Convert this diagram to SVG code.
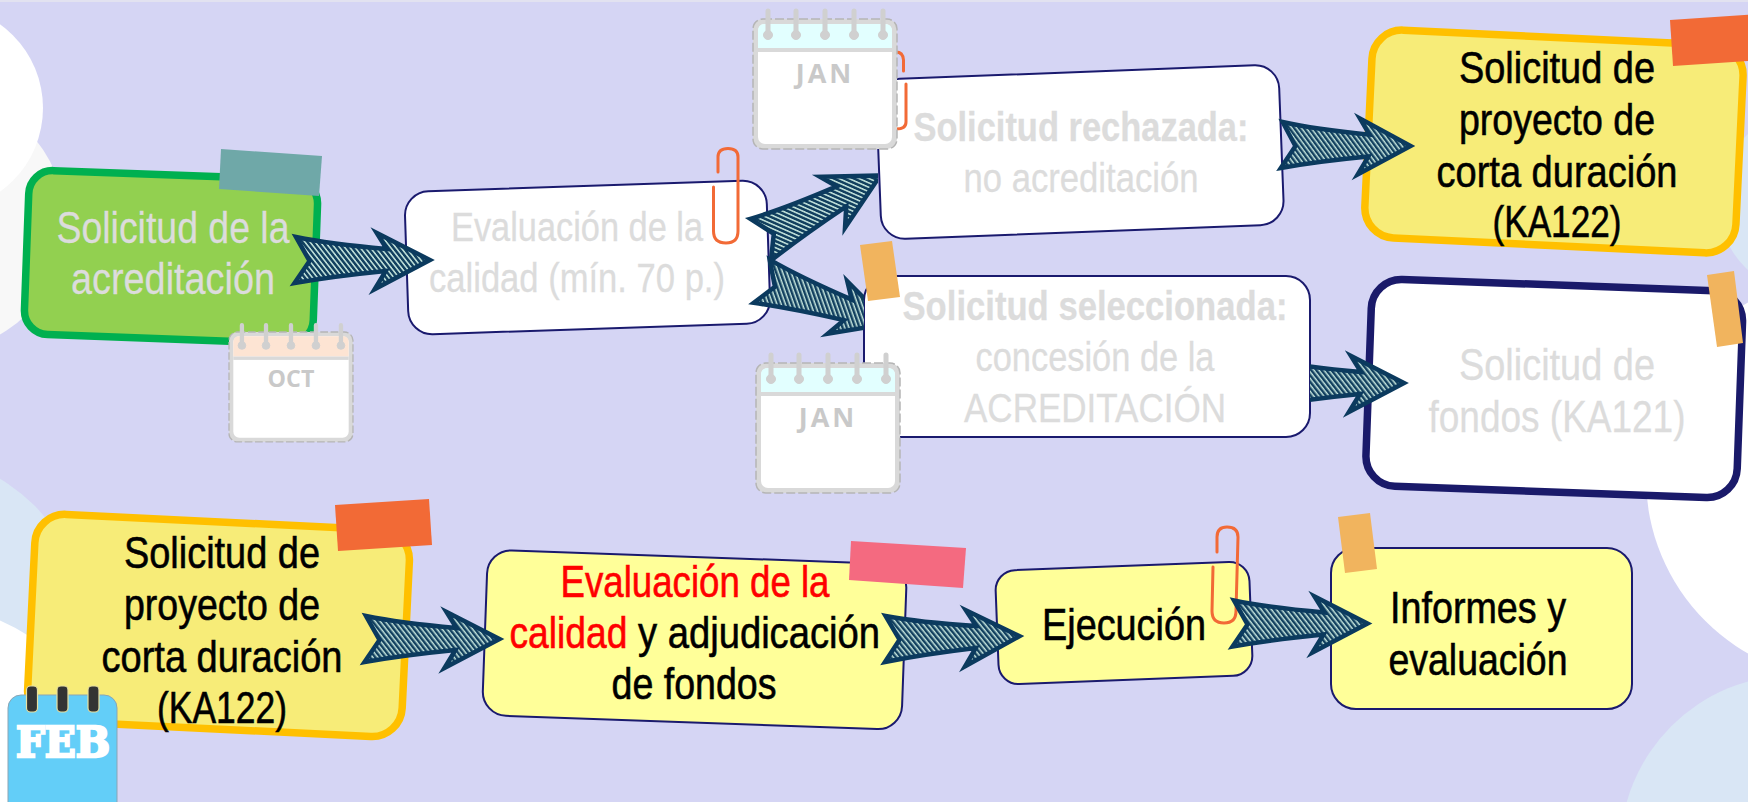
<svg xmlns="http://www.w3.org/2000/svg" width="1748" height="802" viewBox="0 0 1748 802">
<style>
text{font-family:"Liberation Sans",Arial,sans-serif;font-size:45px;text-anchor:middle}
.s{font-size:41px}
.st{text-anchor:start}
.lt{fill:#dcdcdc;stroke:#dcdcdc;stroke-width:.3}.bk{fill:#000;stroke:#000;stroke-width:.6}.rd{fill:#ff0000;stroke:#ff0000;stroke-width:.6}.b{font-weight:bold}
.thin{fill:#fff;stroke:#1a1a6e;stroke-width:2}
.yel{fill:#ffff99;stroke:#1a1a6e;stroke-width:2}
.gold{fill:#f7ec78;stroke:#ffc000;stroke-width:7.5}
.clip{fill:none;stroke:#f26a36;stroke-width:3;stroke-linecap:round}
.calt{font-family:"Open Sans","Liberation Sans",sans-serif;font-size:27px;font-weight:bold;fill:#c9c9c9}
</style>
<defs>
<pattern id="hatch" width="4" height="4" patternUnits="userSpaceOnUse" patternTransform="rotate(52)">
<rect width="4" height="4" fill="#12405f"/><rect width="4" height="1.5" fill="#c4e4dc"/>
</pattern>
<path id="arrow" d="M1.5,-23 Q35,-16 92,-11 L82,-27 L135,0 L80,29 L91,11 Q40,16 0,23 L15,1 Z" fill="url(#hatch)" stroke="#0b3a5e" stroke-width="4.5" stroke-linejoin="miter" stroke-miterlimit="6"/>
<g id="cal-frame">
<rect x="0" y="0" width="144" height="130" rx="10" fill="#d9d9d9" stroke="#b5b5b5" stroke-width="1.5" stroke-dasharray="9 3"/>
<rect x="5" y="5" width="134" height="120" rx="7" fill="#fff"/>
</g>
<g id="cal-rings" fill="#d0d0d0" stroke="#d0d0d0">
<path d="M15,-8V16M43,-8V16M72,-8V16M101,-8V16M130,-8V16" stroke-width="5" stroke-linecap="round"/>
<circle cx="15" cy="16" r="4.5"/><circle cx="43" cy="16" r="4.5"/><circle cx="72" cy="16" r="4.5"/><circle cx="101" cy="16" r="4.5"/><circle cx="130" cy="16" r="4.5"/>
</g>
<clipPath id="c5"><rect x="1310" y="330" width="120" height="110"/></clipPath>
<clipPath id="c2"><rect x="740" y="150" width="138" height="120"/></clipPath>
<clipPath id="c3"><rect x="740" y="250" width="124" height="100"/></clipPath>
</defs>

<rect width="1748" height="802" fill="#d5d5f4"/>
<rect width="1748" height="2" fill="#e2e2f0"/>
<g id="background">
<circle cx="-65" cy="222" r="130" fill="#f8f8f8"/>
<circle cx="-60" cy="108" r="103" fill="#fff"/>
<circle cx="-90" cy="630" r="176" fill="#d9e6f5"/>
<circle cx="-75" cy="795" r="190" fill="#fff"/>
<circle cx="1810" cy="202" r="92" fill="#d9e6f5"/>
<circle cx="1848" cy="478" r="202" fill="#fff"/>
<circle cx="1795" cy="850" r="175" fill="#d9e6f5"/>
</g>

<g id="node-solicitud-acreditacion">
<rect x="26.5" y="175" width="289" height="164" rx="24" transform="rotate(2.1 171 257)" fill="#92d050" stroke="#00b050" stroke-width="7.5"/>
<text x="173" y="243" class="lt" textLength="233" lengthAdjust="spacingAndGlyphs">Solicitud de la</text>
<text x="173" y="294" class="lt" textLength="204" lengthAdjust="spacingAndGlyphs">acreditación</text>
</g>
<g id="node-evaluacion-calidad">
<rect x="406.5" y="186" width="362" height="143" rx="24" transform="rotate(-1.9 587.5 257.5)" class="thin"/>
<text x="577" y="241" class="lt s" textLength="252" lengthAdjust="spacingAndGlyphs">Evaluación de la</text>
<text x="577" y="292" class="lt s" textLength="296" lengthAdjust="spacingAndGlyphs">calidad (mín. 70 p.)</text>
</g>
<g id="node-rechazada">
<rect x="878.5" y="72" width="403" height="160" rx="24" transform="rotate(-2.2 1080 152)" class="thin"/>
<text x="1081" y="141" class="lt s b" textLength="335" lengthAdjust="spacingAndGlyphs">Solicitud rechazada:</text>
<text x="1081" y="192" class="lt s" textLength="235" lengthAdjust="spacingAndGlyphs">no acreditación</text>
</g>
<g id="node-seleccionada">
<rect x="864" y="276" width="446" height="161" rx="24" class="thin"/>
<text x="1095" y="320" class="lt s b" textLength="385" lengthAdjust="spacingAndGlyphs">Solicitud seleccionada:</text>
<text x="1095" y="371" class="lt s" textLength="239" lengthAdjust="spacingAndGlyphs">concesión de la</text>
<text x="1095" y="422" class="lt s" textLength="262" lengthAdjust="spacingAndGlyphs">ACREDITACIÓN</text>
</g>
<g id="node-ka122-top">
<rect x="1368.2" y="37.5" width="371.5" height="208" rx="30" transform="rotate(2.75 1554 141.5)" class="gold"/>
<text x="1557" y="83" class="bk" textLength="196" lengthAdjust="spacingAndGlyphs">Solicitud de</text>
<text x="1557" y="135" class="bk" textLength="196" lengthAdjust="spacingAndGlyphs">proyecto de</text>
<text x="1557" y="187" class="bk" textLength="241" lengthAdjust="spacingAndGlyphs">corta duración</text>
<text x="1557" y="237" class="bk" textLength="129" lengthAdjust="spacingAndGlyphs">(KA122)</text>
</g>
<g id="node-ka121">
<rect x="1368.5" y="285" width="371.5" height="207" rx="30" transform="rotate(2.07 1554.25 388.4)" fill="#fff" stroke="#1a1a6a" stroke-width="7.5"/>
<text x="1557" y="380" class="lt" textLength="196" lengthAdjust="spacingAndGlyphs">Solicitud de</text>
<text x="1557" y="432" class="lt" textLength="257" lengthAdjust="spacingAndGlyphs">fondos (KA121)</text>
</g>
<g id="node-ka122-bottom">
<rect x="31" y="522" width="375" height="207" rx="30" transform="rotate(2.8 219 625.6)" class="gold"/>
<text x="222" y="568" class="bk" textLength="196" lengthAdjust="spacingAndGlyphs">Solicitud de</text>
<text x="222" y="620" class="bk" textLength="196" lengthAdjust="spacingAndGlyphs">proyecto de</text>
<text x="222" y="672" class="bk" textLength="241" lengthAdjust="spacingAndGlyphs">corta duración</text>
<text x="222" y="723" class="bk" textLength="130" lengthAdjust="spacingAndGlyphs">(KA122)</text>
</g>
<g id="node-evaluacion-fondos">
<rect x="484.8" y="557" width="419.5" height="165.5" rx="24" transform="rotate(2.05 694.5 640)" class="yel"/>
<text x="695" y="597" class="rd" textLength="269" lengthAdjust="spacingAndGlyphs">Evaluación de la</text>
<text x="509.5" y="648" class="rd st" textLength="118" lengthAdjust="spacingAndGlyphs">calidad</text>
<text x="638" y="648" class="bk st" textLength="242" lengthAdjust="spacingAndGlyphs">y adjudicación</text>
<text x="694" y="699" class="bk" textLength="165" lengthAdjust="spacingAndGlyphs">de fondos</text>
</g>
<g id="node-ejecucion">
<rect x="997" y="566" width="254" height="114" rx="20" transform="rotate(-2.2 1124 623)" class="yel"/>
<text x="1124" y="640" class="bk" textLength="164" lengthAdjust="spacingAndGlyphs">Ejecución</text>
</g>
<g id="node-informes">
<rect x="1331" y="548" width="301" height="161" rx="25" class="yel"/>
<text x="1478" y="623" class="bk" textLength="176" lengthAdjust="spacingAndGlyphs">Informes y</text>
<text x="1478" y="675" class="bk" textLength="179" lengthAdjust="spacingAndGlyphs">evaluación</text>
</g>

<g id="clips">
<path class="clip" d="M718,172V157Q718,148.5 728,148.5Q738,148.5 738,157V231Q738,243 726,243Q713.5,243 713.5,231V187"/>
<path class="clip" d="M896,52Q903,52 903.5,60V71M906,84V122Q906,129 896,129"/>
<path class="clip" d="M1217,552V537Q1217,527 1227,527Q1238,527 1238,537L1236,611Q1236,623 1224,623Q1212,623 1212,611L1213,567"/>
</g>

<g id="connectors">
<use href="#arrow" transform="translate(294.5,260) scale(1.003)"/>
<g clip-path="url(#c2)"><use href="#arrow" transform="translate(760,240) rotate(-28.2) scale(1.01)"/></g>
<g clip-path="url(#c3)"><use href="#arrow" transform="translate(761,281) rotate(18.4)"/></g>
<use href="#arrow" transform="translate(1281,145) rotate(0.4) scale(.96,1)"/>
<g clip-path="url(#c5)"><use href="#arrow" transform="translate(1269,383)"/></g>
<use href="#arrow" transform="translate(364.5,639)"/>
<use href="#arrow" transform="translate(884.5,639) rotate(-1.2)"/>
<use href="#arrow" transform="translate(1232.5,623.5)"/>
</g>

<g id="tapes">
<polygon points="221,149 322,156 319,196 219,189" fill="#6fa8a8"/>
<polygon points="1670,20 1760,14 1763,60 1673,66" fill="#f26a36"/>
<polygon points="860,245 892,241 900,297 868,301" fill="#f1b45e"/>
<polygon points="1707,275 1734,271 1743,343 1717,347" fill="#f1b45e"/>
<polygon points="335,505 429,499 432,545 338,551" fill="#f26a36"/>
<polygon points="851,541 966,548 963,588 849,580" fill="#f46a80"/>
<polygon points="1338,517 1370,513 1377,569 1345,573" fill="#f1b45e"/>
</g>

<g id="calendar-oct" transform="translate(229,332) scale(.861,.846)">
<use href="#cal-frame"/><path d="M5,29V12Q5,5 12,5H132Q139,5 139,12V29Z" fill="#fde4d3"/><rect x="5" y="29" width="134" height="4" fill="#d9d9d9"/><use href="#cal-rings"/>
<text x="72" y="65" class="calt">OCT</text>
</g>
<g id="calendar-jan-1" transform="translate(753,19)">
<use href="#cal-frame"/><path d="M5,29V12Q5,5 12,5H132Q139,5 139,12V29Z" fill="#e2ffff"/><rect x="5" y="29" width="134" height="4" fill="#d9d9d9"/><use href="#cal-rings"/>
<text x="72" y="64" class="calt" letter-spacing="3">JAN</text>
</g>
<g id="calendar-jan-2" transform="translate(756,363)">
<use href="#cal-frame"/><path d="M5,29V12Q5,5 12,5H132Q139,5 139,12V29Z" fill="#e2ffff"/><rect x="5" y="29" width="134" height="4" fill="#d9d9d9"/><use href="#cal-rings"/>
<text x="72" y="64" class="calt" letter-spacing="3">JAN</text>
</g>
<g id="calendar-feb">
<rect x="8" y="695" width="109" height="125" rx="13" fill="#63cef8" stroke="#8aa5b5" stroke-width="1"/>
<g fill="#333" stroke="#e8e0a0" stroke-width="1.2">
<rect x="26.5" y="686" width="11" height="26" rx="4"/>
<rect x="57" y="686" width="11" height="26" rx="4"/>
<rect x="88" y="686" width="11" height="26" rx="4"/>
</g>
<text x="63" y="757" textLength="94" lengthAdjust="spacingAndGlyphs" style="font-family:'DejaVu Serif',serif;font-size:42px;font-weight:bold;fill:#fff;stroke:#fff;stroke-width:2.5">FEB</text>
</g>
</svg>
